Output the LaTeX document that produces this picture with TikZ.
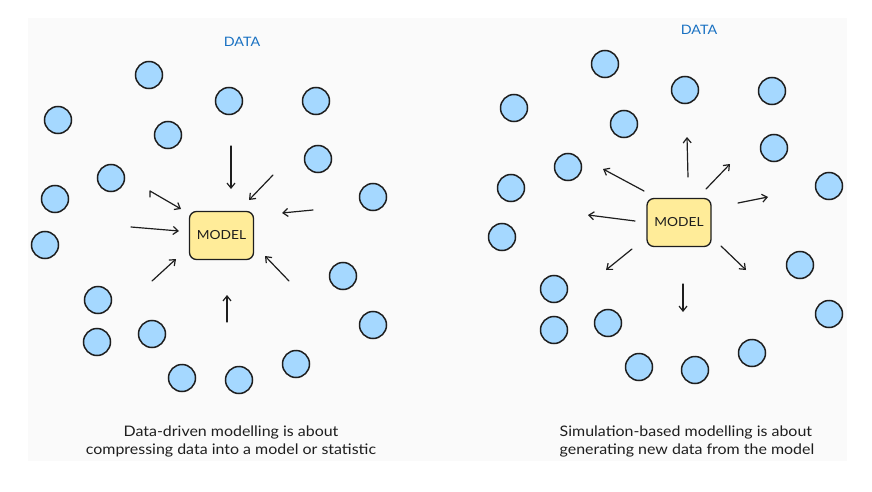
\documentclass[tikz,border=0pt]{standalone}
\usepackage{fontspec}
\setmainfont[FakeStretch=1.1]{Lato}
\usetikzlibrary{arrows.meta}
\definecolor{dotfill}{HTML}{A5D8FF}
\definecolor{ink}{HTML}{1E1E1E}
\definecolor{boxfill}{HTML}{FFEC99}
\definecolor{datablue}{HTML}{1971C2}
\definecolor{panel}{HTML}{FAFAFA}
\tikzset{
  dot/.style={circle, draw=ink, fill=dotfill, line width=1.5pt, minimum size=27pt, inner sep=0pt},
  modelbox/.style={draw=ink, fill=boxfill, line width=1.3pt, rounded corners=7pt, minimum width=64pt, minimum height=48pt, inner sep=0pt, font=\fontsize{12.5}{14}\selectfont, text=ink},
  datalabel/.style={text=datablue, font=\fontsize{13}{15}\selectfont},
  caption/.style={text=ink, font=\fontsize{14.5}{18}\selectfont, inner sep=0pt},
  arr/.style={draw=ink, line width=1.2pt, line cap=round, line join=round, -{Straight Barb[length=5pt,width=8pt,line width=1.2pt]}},
}
\begin{document}
\begin{tikzpicture}[x=1pt,y=-1pt]
\useasboundingbox (0,0) rectangle (872,492);
\fill[panel] (28,18) rectangle (847,461);

% ---------- left panel ----------
\node[datalabel] (ldata) at (242,42) {DATA};
\foreach \i/\x/\y in {1/149/75, 2/229/101, 3/316/101, 4/58/120, 5/168/135, 6/318/159,
  7/111/178, 8/55/199, 9/373/197, 10/45/245, 11/343/276, 12/98/300, 13/97/342,
  14/152/334, 15/373/325, 16/182/378, 17/239/380, 18/296/364}
  \node[dot] (l\i) at (\x,\y) {};
\node[modelbox] (lmodel) at (221.5,235.5) {MODEL};

\coordinate (la1) at (231,146); \coordinate (lb1) at (231,189);
\coordinate (la2) at (273,175); \coordinate (lb2) at (249,200);
\coordinate (la3) at (313,210); \coordinate (lb3) at (282,213);
\coordinate (la4) at (150,191); \coordinate (lb4) at (181,209); \coordinate (lh4) at (150,197);
\coordinate (la5) at (131,227); \coordinate (lb5) at (179,231);
\coordinate (la6) at (152,281); \coordinate (lb6) at (176,259);
\coordinate (la7) at (227,322); \coordinate (lb7) at (227,295);
\coordinate (la8) at (289,281); \coordinate (lb8) at (265,256);
\draw[arr] (la1) -- (lb1);
\draw[arr] (la2) -- (lb2);
\draw[arr] (la3) -- (lb3);
\draw[arr] (lh4) -- (la4) -- (lb4);
\draw[arr] (la5) -- (lb5);
\draw[arr] (la6) -- (lb6);
\draw[arr] (la7) -- (lb7);
\draw[arr] (la8) -- (lb8);

\node[caption, align=center] (lcap) at (231,441) {Data-driven modelling is about\\compressing data into a model or statistic};

% ---------- right panel ----------
\node[datalabel] (rdata) at (699,30) {DATA};
\foreach \i/\x/\y in {1/605/64, 2/685/90, 3/772/91, 4/514/108, 5/624/124, 6/774/148,
  7/568/167, 8/511/188, 9/829/186, 10/502/237, 11/800/265, 12/554/289, 13/829/314,
  14/554/330, 15/608/323, 16/752/353, 17/639/367, 18/695/370}
  \node[dot] (r\i) at (\x,\y) {};
\node[modelbox] (rmodel) at (679,222.5) {MODEL};

\coordinate (ra1) at (688,177); \coordinate (rb1) at (687,137);
\coordinate (ra2) at (644,191); \coordinate (rb2) at (603,169);
\coordinate (ra3) at (706,189); \coordinate (rb3) at (730,164);
\coordinate (ra4) at (738,203); \coordinate (rb4) at (768,197);
\coordinate (ra5) at (635,221); \coordinate (rb5) at (588,215);
\coordinate (ra6) at (632,249); \coordinate (rb6) at (606,270);
\coordinate (ra7) at (721,246); \coordinate (rb7) at (746,270);
\coordinate (ra8) at (683,284); \coordinate (rb8) at (683,312);
\foreach \k in {1,...,8} \draw[arr] (ra\k) -- (rb\k);

\node[caption, align=left] (rcap) at (687,441) {Simulation-based modelling is about\\generating new data from the model};
\end{tikzpicture}
\end{document}
